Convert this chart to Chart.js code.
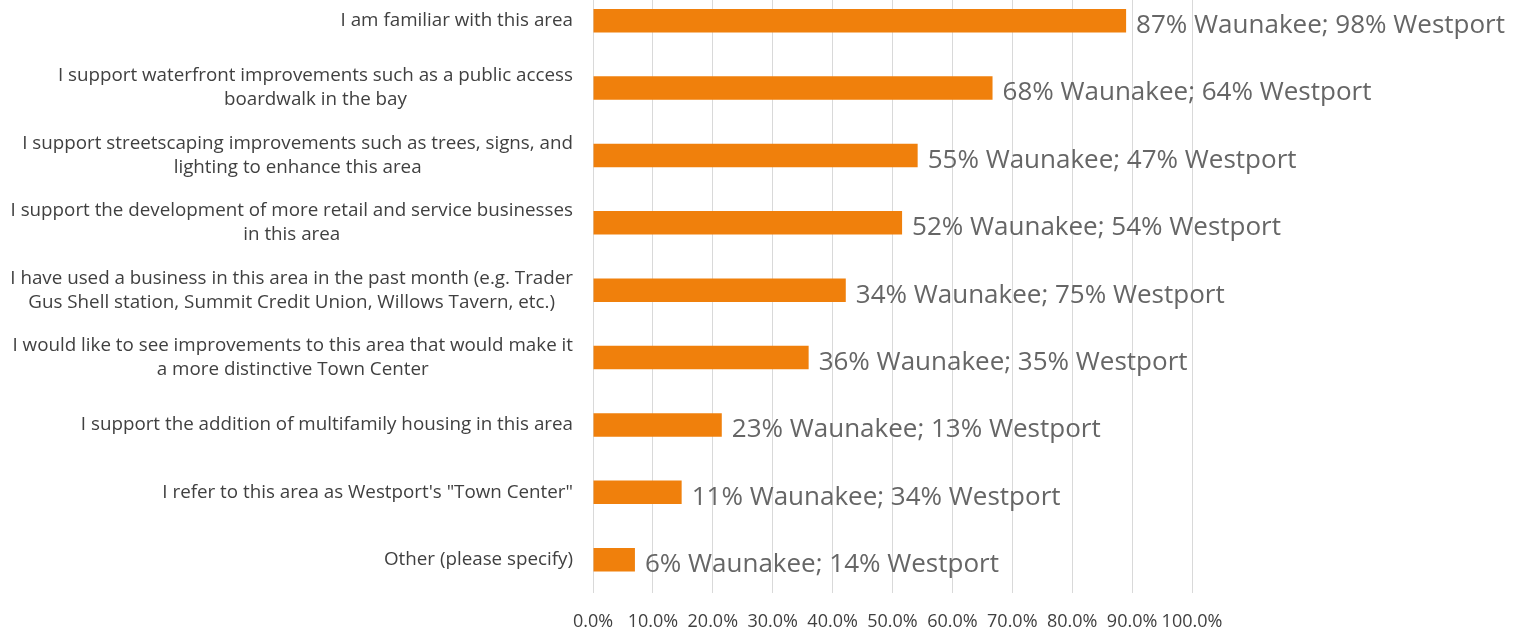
<!DOCTYPE html>
<html>
<head>
<meta charset="utf-8">
<script src="https://cdn.jsdelivr.net/npm/chart.js@4"></script>
<style>
  html, body { margin: 0; padding: 0; background: #fff; overflow: hidden; }
  #wrap { position: absolute; left: 0; top: -13px; width: 1526px; height: 664px; }
</style>
</head>
<body>
<div id="wrap"><canvas id="surveyChart"></canvas></div>
<script>
// Survey statements (wrapped the way they appear on the chart)
const categories = [
    ['I am familiar with this area'],
    ['I support waterfront improvements such as a public access', 'boardwalk in the bay'],
    ['I support streetscaping improvements such as trees, signs, and', 'lighting to enhance this area'],
    ['I support the development of more retail and service businesses', 'in this area'],
    ['I have used a business in this area in the past month (e.g. Trader', 'Gus Shell station, Summit Credit Union, Willows Tavern, etc.)'],
    ['I would like to see improvements to this area that would make it', 'a more distinctive Town Center'],
    ['I support the addition of multifamily housing in this area'],
    ['I refer to this area as Westport\'s "Town Center"'],
    ['Other (please specify)']
];

// Bar lengths in percent
const values = [89, 66.7, 54.2, 51.6, 42.2, 36, 21.5, 14.8, 7];

const dataLabels = [
    '87% Waunakee; 98% Westport',
    '68% Waunakee; 64% Westport',
    '55% Waunakee; 47% Westport',
    '52% Waunakee; 54% Westport',
    '34% Waunakee; 75% Westport',
    '36% Waunakee; 35% Westport',
    '23% Waunakee; 13% Westport',
    '11% Waunakee; 34% Westport',
    '6% Waunakee; 14% Westport'
];

const xMin = 0;
const xMax = 100;
const xStep = 10;

const FONT = '"Open Sans", sans-serif';

// Draws the value text after each bar and the wrapped category text on the left
const surveyLabels = {
    id: 'surveyLabels',
    afterDatasetsDraw(chart) {
        const ctx = chart.ctx;
        const meta = chart.getDatasetMeta(0);
        ctx.save();
        ctx.font = '26px ' + FONT;
        ctx.fillStyle = '#666666';
        ctx.textAlign = 'left';
        ctx.textBaseline = 'middle';
        meta.data.forEach((bar, i) => {
            ctx.fillText(dataLabels[i], bar.x + 10, bar.y + 5);
        });

        ctx.font = '18.8px ' + FONT;
        ctx.fillStyle = '#404040';
        ctx.textAlign = 'center';
        const yScale = chart.scales.y;
        const rightEdge = 573;
        categories.forEach((lines, i) => {
            const yc = yScale.getPixelForValue(i);
            const w = ctx.measureText(lines[0]).width;
            const cx = rightEdge - w / 2;
            lines.forEach((line, j) => {
                ctx.fillText(line, cx, yc + (j - (lines.length - 1) / 2) * 24);
            });
        });
        ctx.restore();
    }
};

const ctx = document.getElementById('surveyChart').getContext('2d');
new Chart(ctx, {
    type: 'bar',
    data: {
        labels: categories.map(c => c.join(' ')),
        datasets: [{
            data: values,
            backgroundColor: '#F0800C',
            borderWidth: 0,
            categoryPercentage: 1,
            barPercentage: 0.35
        }]
    },
    options: {
        indexAxis: 'y',
        responsive: true,
        maintainAspectRatio: false,
        animation: false,
        layout: {
            padding: { left: 585, right: 334, top: 0, bottom: 0 }
        },
        plugins: {
            legend: { display: false },
            tooltip: { enabled: false }
        },
        scales: {
            x: {
                min: xMin,
                max: xMax,
                border: { display: false },
                grid: { color: '#d9d9d9', drawTicks: false },
                ticks: {
                    stepSize: xStep,
                    padding: 18,
                    color: '#404040',
                    font: { family: FONT, size: 18 },
                    maxRotation: 0,
                    autoSkip: false,
                    callback: v => v.toFixed(1) + '%'
                }
            },
            y: {
                border: { display: false },
                grid: { display: false },
                ticks: { display: false }
            }
        }
    },
    plugins: [surveyLabels]
});
</script>
</body>
</html>
